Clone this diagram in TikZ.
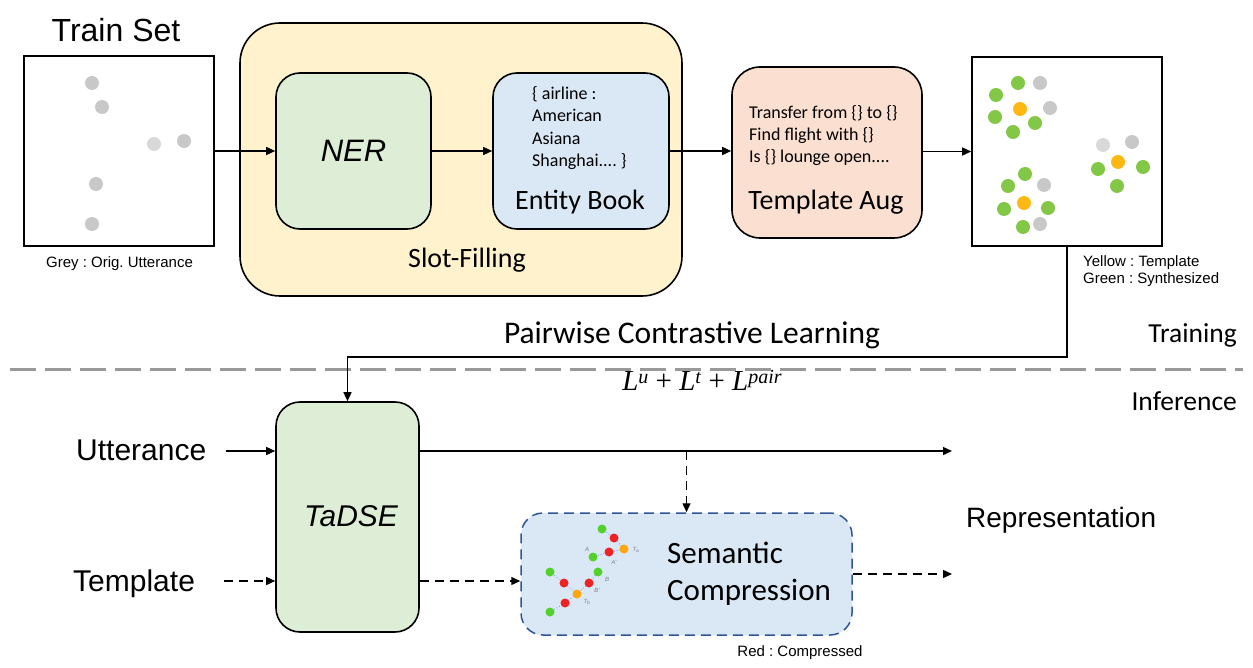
\documentclass[tikz,border=0pt]{standalone}
\usepackage{fontspec}
\setmainfont{Liberation Sans}
\newfontfamily\calib{Carlito}
\newfontfamily\tms{Liberation Serif}
\usetikzlibrary{arrows.meta}
\frenchspacing
\definecolor{ylw}{HTML}{FFF2CC}
\definecolor{grn}{HTML}{DDEDD6}
\definecolor{blu}{HTML}{DAE8F6}
\definecolor{pch}{HTML}{FBE0D1}
\definecolor{semblue}{HTML}{2F5597}
\definecolor{dotgrey}{HTML}{C8C8C8}
\definecolor{dotlgrey}{HTML}{D9D9D9}
\definecolor{dotgreen}{HTML}{82C846}
\definecolor{dotyel}{HTML}{FDB813}
\definecolor{sgreen}{HTML}{52D12B}
\definecolor{sred}{HTML}{EE2222}
\definecolor{sorange}{HTML}{FFA60D}
\definecolor{divgrey}{HTML}{999999}
\begin{document}
\begin{tikzpicture}[x=1pt,y=-1pt,
  box/.style={draw=black, line width=1.6pt, inner sep=0pt},
  arr/.style={-{Triangle[length=9pt,width=8pt]}, line width=1.4pt},
  darr/.style={arr, dash pattern=on 9pt off 6pt},
  txt/.style={inner sep=0pt},
  big/.style={txt, font=\fontsize{30}{36}\selectfont},
  cal/.style={txt, font=\calib\fontsize{28}{34}\selectfont},
  sml/.style={txt, font=\calib\fontsize{18}{22}\selectfont},
  tiny/.style={txt, font=\fontsize{15}{18}\selectfont},
  lab/.style={txt, font=\itshape\fontsize{6}{7}\selectfont, text=gray}
]
\useasboundingbox (0,0) rectangle (1253,668);

% divider
\draw[divgrey, line width=3pt, dash pattern=on 26pt off 9pt] (10,369) -- (1243,369);

% Train set
\node[big, font=\fontsize{32}{38}\selectfont, anchor=base] (trainlbl) at (116,42) {Train Set};
\node[box, minimum width=190pt, minimum height=190pt] (train) at (119,151) {};
\foreach \x/\y/\c in {92/83/dotgrey, 102/107/dotgrey, 154/144/dotlgrey, 184/141/dotgrey, 96/184/dotgrey, 92/224/dotgrey}
  \fill[\c] (\x,\y) circle (7pt);
\node[tiny, anchor=base] (greylbl) at (119.5,268) {Grey : Orig. Utterance};

% Slot filling
\node[box, fill=ylw, rounded corners=40pt, minimum width=442pt, minimum height=273pt] (slot) at (461,159.5) {};
\node[box, fill=grn, rounded corners=24pt, minimum width=155pt, minimum height=156pt] (ner) at (353.5,151) {};
\node[big, font=\itshape\fontsize{31}{36}\selectfont] (nertxt) at (ner.center) {NER};
\node[box, fill=blu, rounded corners=24pt, minimum width=176pt, minimum height=156pt] (entity) at (581,151) {};
\node[sml, anchor=base west] (eb1) at (532,100) {\{ airline :};
\node[sml, anchor=base west] (eb2) at (532,122) {American};
\node[sml, anchor=base west] (eb3) at (532,144.5) {Asiana};
\node[sml, anchor=base west] (eb4) at (532,166.7) {Shanghai.... \}};
\node[cal, anchor=base] (ebtxt) at (580,210) {Entity Book};
\node[cal, anchor=base] (slottxt) at (467,268) {Slot-Filling};

% Template Aug
\node[box, fill=pch, rounded corners=28pt, minimum width=190pt, minimum height=171pt] (aug) at (827,152.5) {};
\node[sml, anchor=base west] (ta1) at (749,118.3) {Transfer from \{\} to \{\}};
\node[sml, anchor=base west] (ta2) at (749,140.5) {Find flight with \{\}};
\node[sml, anchor=base west] (ta3) at (749,163) {Is \{\} lounge open....};
\node[cal, anchor=base] (augtxt) at (826,210) {Template Aug};

% Result box
\node[box, minimum width=190pt, minimum height=189pt] (result) at (1067,151.5) {};
\foreach \x/\y/\c in {
  1018/83/dotgreen, 1040/83/dotgrey, 996/95/dotgreen, 1020/109/dotyel, 1050/108/dotgrey,
  995/117/dotgreen, 1035/123/dotgreen, 1013/132/dotgreen,
  1103/145/dotlgrey, 1132/142/dotgrey, 1118/162/dotyel, 1098/169/dotgreen, 1143/167/dotgreen, 1117/186/dotgreen,
  1025/174/dotgreen, 1008/186/dotgreen, 1044/185/dotgrey, 1024/203/dotyel, 1004/209/dotgreen,
  1048/208/dotgreen, 1023/227/dotgreen, 1040/224/dotgrey}
  \fill[\c] (\x,\y) circle (7pt);
\node[tiny, anchor=base west] (yl) at (1083,267) {Yellow : Template};
\node[tiny, anchor=base west] (gl) at (1083,284) {Green : Synthesized};

% top connectors
\draw[arr] (train.east) -- (ner.west);
\draw[arr] (ner.east) -- (entity.west);
\draw[arr] (entity.east) -- (entity.east -| aug.west);
\draw[arr] (aug.east |- result.west) -- (result.west);

% Training / inference labels
\node[cal, font=\calib\fontsize{31.5}{36}\selectfont, anchor=base] (pcl) at (692,344) {Pairwise Contrastive Learning};
\node[cal, font=\calib\fontsize{27.5}{32}\selectfont, anchor=base east] (trn) at (1237,342) {Training};
\node[cal, font=\calib\fontsize{27.5}{32}\selectfont, anchor=base east] (inf) at (1237,410) {Inference};
\node[txt, anchor=base, font=\tms\fontsize{29}{33}\selectfont] (loss) at (702,390)
  {\textit{L}\raisebox{7pt}{\fontsize{20}{21}\selectfont\textit{u}} + \textit{L}\raisebox{7pt}{\fontsize{20}{21}\selectfont\textit{t}} + \textit{L}\raisebox{7pt}{\fontsize{20}{21}\selectfont\textit{pair}}};

% Inference part
\node[box, fill=grn, rounded corners=24pt, minimum width=143pt, minimum height=230pt] (tadse) at (347.5,517) {};
\node[big, font=\itshape\fontsize{30}{36}\selectfont] (tadsetxt) at (351,516) {TaDSE};
\coordinate (bend) at (1067,357);
\draw[arr] (result.south) -- (bend) -| (tadse.north);

\node[big, anchor=base west] (utt) at (76,460.7) {Utterance};
\node[big, anchor=base west] (tmpl) at (73,591.7) {Template};
\coordinate (uttin) at (226,451);
\coordinate (tmplin) at (224,581);
\draw[arr] (uttin) -- (uttin -| tadse.west);
\draw[darr] (tmplin) -- (tmplin -| tadse.west);

\node[box, draw=semblue, fill=blu, line width=1.5pt, dash pattern=on 10pt off 6pt, rounded corners=22pt, minimum width=331pt, minimum height=122pt] (sem) at (686.5,574) {};
\coordinate (repup) at (952,451);
\coordinate (repdown) at (952,574);
\draw[arr] (uttin -| tadse.east) -- (repup);
\draw[darr] (uttin -| sem.north) -- (sem.north);
\draw[darr] (tmplin -| tadse.east) -- (tmplin -| sem.west);
\draw[darr] (sem.east) -- (repdown);

% scatter in semantic compression
\draw[blue!45, line width=0.8pt, dotted] (602,529) -- (614,538) -- (624,549) -- (609,552) -- (593,557);
\draw[blue!45, line width=0.8pt, dotted] (550,572) -- (564,583) -- (577,594) -- (565,603) -- (550,612);
\draw[blue!45, line width=0.8pt, dotted] (577,594) -- (589,583) -- (598,572);
\foreach \x/\y/\c in {602/529/sgreen, 614/538/sred, 624/549/sorange, 609/552/sred, 593/557/sgreen,
  550/572/sgreen, 564/583/sred, 577/594/sorange, 565/603/sred, 550/612/sgreen, 589/583/sred, 598/572/sgreen}
  \fill[\c] (\x,\y) circle (4.5pt);
\node[lab] (la) at (587,549) {A};
\node[lab] (laa) at (614,562) {A'};
\node[lab] (lta) at (636,550) {T\textsubscript{a}};
\node[lab] (lb) at (607,579) {B};
\node[lab] (lbb) at (597,590) {B'};
\node[lab] (ltb) at (587,602) {T\textsubscript{b}};

\node[cal, font=\calib\fontsize{31}{36}\selectfont, anchor=base west] (s1) at (667,563) {Semantic};
\node[cal, font=\calib\fontsize{31}{36}\selectfont, anchor=base west] (s2) at (667,600) {Compression};
\node[tiny, anchor=base] (redl) at (800,656) {Red : Compressed};

\node[big, font=\fontsize{28}{34}\selectfont, anchor=base west] (rep) at (966,527) {Representation};
\end{tikzpicture}
\end{document}
